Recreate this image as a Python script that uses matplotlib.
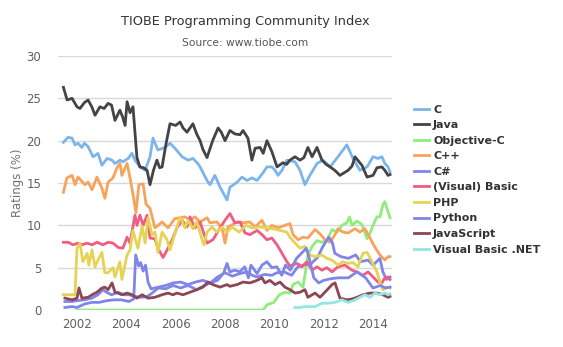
import matplotlib.pyplot as plt

# ratings (%), year as decimal
c_years = [2001.45, 2001.64, 2001.80, 2001.92, 2002.04, 2002.20, 2002.30, 2002.45, 2002.65, 2002.85,
           2003.01, 2003.22, 2003.42, 2003.54, 2003.74, 2003.86, 2004.07, 2004.23, 2004.35, 2004.55,
           2004.76, 2004.96, 2005.08, 2005.28, 2005.57, 2005.77, 2005.97, 2006.26, 2006.50, 2006.70,
           2006.90, 2006.99, 2007.27, 2007.39, 2007.59, 2007.80, 2008.08, 2008.20, 2008.49, 2008.69,
           2008.89, 2009.09, 2009.30, 2009.54, 2009.70, 2009.90, 2010.03, 2010.15, 2010.31, 2010.51,
           2010.84, 2011.04, 2011.24, 2011.44, 2011.73, 2011.97, 2012.26, 2012.58, 2012.94, 2013.19,
           2013.47, 2013.76, 2014.00, 2014.20, 2014.36, 2014.48, 2014.61, 2014.69]
c_vals = [19.8, 20.4, 20.3, 19.5, 19.7, 19.2, 19.7, 19.3, 18.1, 18.5,
          17.1, 17.9, 17.7, 17.3, 17.7, 17.5, 17.9, 18.5, 17.7, 16.9,
          16.5, 18.1, 20.3, 18.9, 19.2, 19.7, 19.1, 18.1, 17.7, 17.9,
          17.3, 16.9, 15.3, 14.8, 15.9, 14.5, 13.0, 14.5, 15.1, 15.7,
          15.3, 15.6, 15.3, 16.2, 16.9, 16.9, 16.5, 15.9, 16.5, 17.7,
          17.5, 16.5, 14.8, 15.9, 17.3, 17.7, 16.9, 18.1, 19.5, 17.9,
          16.5, 16.9, 18.1, 17.9, 18.1, 17.3, 16.9, 16.3]

java_years = [2001.45, 2001.60, 2001.80, 2002.00, 2002.12, 2002.30, 2002.45, 2002.60, 2002.73, 2002.93,
              2003.10, 2003.26, 2003.40, 2003.54, 2003.74, 2003.85, 2003.95, 2004.03, 2004.15, 2004.27,
              2004.35, 2004.43, 2004.55, 2004.70, 2004.84, 2004.96, 2005.10, 2005.24, 2005.35, 2005.45,
              2005.60, 2005.77, 2006.00, 2006.18, 2006.30, 2006.46, 2006.70, 2006.85, 2006.99, 2007.10,
              2007.27, 2007.50, 2007.72, 2007.85, 2008.00, 2008.20, 2008.40, 2008.61, 2008.73, 2008.93,
              2009.09, 2009.22, 2009.42, 2009.55, 2009.70, 2009.90, 2010.11, 2010.35, 2010.50, 2010.63,
              2010.84, 2011.04, 2011.20, 2011.36, 2011.53, 2011.73, 2011.93, 2012.10, 2012.26, 2012.45,
              2012.66, 2012.99, 2013.15, 2013.27, 2013.55, 2013.76, 2014.00, 2014.16, 2014.36, 2014.48,
              2014.61, 2014.69]
java_vals = [26.3, 24.8, 25.0, 24.0, 23.8, 24.5, 24.8, 24.0, 23.0, 24.0,
             23.8, 24.4, 24.2, 22.4, 23.6, 22.8, 21.8, 24.6, 23.3, 24.0,
             21.0, 18.0, 16.9, 16.8, 16.5, 14.8, 16.5, 17.7, 16.8, 16.9,
             19.5, 22.0, 21.8, 22.2, 21.5, 21.0, 22.0, 20.8, 20.0, 19.0,
             18.0, 20.0, 21.5, 21.0, 20.0, 21.2, 20.8, 20.7, 21.2, 20.3,
             17.7, 19.1, 19.2, 18.5, 20.0, 18.7, 16.9, 17.4, 17.2, 17.7,
             18.1, 17.7, 18.0, 19.2, 18.1, 19.2, 17.7, 17.2, 16.9, 16.5,
             15.9, 16.5, 17.0, 18.1, 17.1, 15.7, 15.9, 16.8, 16.9, 16.5,
             15.9, 16.0]

objc_years = [2002.00, 2009.50, 2009.60, 2009.70, 2009.98, 2010.20, 2010.43, 2010.63, 2010.76, 2010.96,
              2011.16, 2011.24, 2011.36, 2011.53, 2011.73, 2011.93, 2012.13, 2012.34, 2012.54, 2012.74,
              2012.94, 2013.05, 2013.15, 2013.35, 2013.55, 2013.76, 2013.88, 2014.00, 2014.16, 2014.28,
              2014.40, 2014.48, 2014.61, 2014.69]
objc_vals = [0.0, 0.0, 0.2, 0.6, 0.9, 1.8, 2.1, 2.0, 3.0, 3.3,
             2.7, 4.1, 6.5, 7.5, 8.2, 8.0, 8.2, 9.5, 9.2, 10.0,
             10.3, 11.0, 10.0, 10.5, 10.1, 8.4, 9.1, 10.0, 11.0, 11.0,
             12.4, 12.8, 11.6, 10.9]

cpp_years = [2001.45, 2001.59, 2001.80, 2001.92, 2002.04, 2002.32, 2002.45, 2002.61, 2002.81, 2003.01,
             2003.13, 2003.26, 2003.46, 2003.62, 2003.74, 2003.82, 2004.03, 2004.15, 2004.31, 2004.39,
             2004.51, 2004.68, 2004.80, 2004.96, 2005.16, 2005.45, 2005.69, 2005.97, 2006.18, 2006.38,
             2006.58, 2006.78, 2006.99, 2007.27, 2007.39, 2007.67, 2007.88, 2008.00, 2008.12, 2008.49,
             2008.73, 2009.01, 2009.22, 2009.50, 2009.70, 2009.90, 2010.15, 2010.43, 2010.63, 2010.76,
             2010.96, 2011.16, 2011.36, 2011.65, 2011.85, 2012.05, 2012.26, 2012.46, 2012.58, 2012.78,
             2012.99, 2013.27, 2013.47, 2013.67, 2013.88, 2014.08, 2014.28, 2014.48, 2014.61, 2014.69]
cpp_vals = [13.9, 15.6, 15.9, 14.8, 15.7, 14.8, 15.1, 14.2, 15.7, 14.4,
            13.2, 15.1, 15.6, 16.8, 17.3, 15.9, 17.3, 15.6, 13.0, 11.5,
            14.8, 14.9, 12.5, 12.0, 9.7, 10.4, 9.7, 10.8, 10.9, 11.0,
            10.6, 11.0, 10.4, 10.9, 10.3, 10.4, 9.7, 7.9, 9.8, 10.4,
            10.3, 10.4, 9.8, 10.6, 9.4, 10.0, 9.7, 10.0, 10.2, 8.9,
            8.3, 8.6, 8.5, 9.5, 9.0, 8.3, 8.0, 8.9, 9.6, 9.2,
            9.1, 9.6, 9.2, 9.6, 8.5, 7.4, 6.5, 5.9, 6.3, 6.3]

cs_years = [2001.51, 2001.80, 2002.00, 2002.30, 2002.60, 2002.90, 2003.20, 2003.50, 2003.80, 2004.10,
            2004.30, 2004.38, 2004.50, 2004.58, 2004.68, 2004.78, 2004.88, 2005.00, 2005.30, 2005.60,
            2005.90, 2006.20, 2006.50, 2006.80, 2007.10, 2007.40, 2007.70, 2008.00, 2008.30, 2008.60,
            2008.90, 2009.10, 2009.30, 2009.60, 2009.90, 2010.10, 2010.40, 2010.70, 2010.95, 2011.20,
            2011.50, 2011.75, 2011.95, 2012.20, 2012.35, 2012.45, 2012.70, 2013.00, 2013.30, 2013.50,
            2013.80, 2014.00, 2014.28, 2014.40, 2014.55, 2014.69]
cs_vals = [0.3, 0.4, 0.3, 0.7, 0.9, 0.9, 1.1, 1.2, 1.2, 1.0,
           1.3, 6.5, 5.2, 5.6, 4.6, 5.3, 3.3, 2.5, 2.7, 2.9,
           3.2, 3.3, 3.0, 3.3, 3.5, 3.2, 3.9, 4.4, 4.0, 4.3,
           4.5, 4.1, 3.9, 4.2, 4.1, 4.4, 4.5, 4.1, 5.1, 5.3,
           5.5, 6.2, 7.4, 8.6, 8.0, 6.7, 6.3, 6.1, 6.5, 5.7,
           5.9, 5.3, 6.1, 4.5, 3.6, 3.9]

vb_years = [2001.45, 2001.64, 2001.84, 2002.04, 2002.20, 2002.41, 2002.61, 2002.81, 2003.05, 2003.26,
            2003.46, 2003.66, 2003.86, 2004.03, 2004.15, 2004.35, 2004.43, 2004.55, 2004.68, 2004.84,
            2004.96, 2005.16, 2005.28, 2005.49, 2005.69, 2005.89, 2006.05, 2006.26, 2006.46, 2006.58,
            2006.78, 2006.99, 2007.27, 2007.51, 2007.80, 2008.00, 2008.20, 2008.40, 2008.61, 2008.81,
            2009.01, 2009.30, 2009.50, 2009.70, 2009.90, 2010.11, 2010.31, 2010.51, 2010.63, 2010.92,
            2011.12, 2011.32, 2011.53, 2011.73, 2011.93, 2012.13, 2012.34, 2012.58, 2012.86, 2013.15,
            2013.35, 2013.59, 2013.80, 2014.00, 2014.20, 2014.36, 2014.48, 2014.61, 2014.69]
vb_vals = [8.0, 8.0, 7.7, 7.9, 7.7, 7.9, 7.7, 8.0, 7.7, 8.0,
           7.9, 7.4, 7.3, 8.6, 7.9, 11.2, 10.0, 11.2, 10.0, 11.2,
           8.5, 8.4, 7.3, 6.2, 7.3, 8.5, 9.7, 10.6, 9.8, 11.0,
           9.7, 10.4, 7.9, 8.3, 9.7, 10.6, 11.4, 10.3, 10.4, 9.1,
           8.9, 9.4, 8.9, 8.3, 8.5, 7.7, 6.7, 5.7, 5.2, 5.5,
           5.1, 5.7, 4.7, 5.1, 4.7, 5.0, 4.5, 5.1, 5.3, 4.7,
           4.5, 4.1, 4.5, 3.9, 3.3, 3.2, 3.8, 3.9, 3.6]

php_years = [2001.45, 2001.64, 2001.92, 2002.00, 2002.12, 2002.24, 2002.41, 2002.48, 2002.61, 2002.73,
             2002.85, 2003.01, 2003.13, 2003.26, 2003.46, 2003.54, 2003.74, 2003.82, 2004.03, 2004.15,
             2004.27, 2004.35, 2004.47, 2004.64, 2004.76, 2004.88, 2005.04, 2005.16, 2005.28, 2005.45,
             2005.65, 2005.77, 2005.97, 2006.18, 2006.38, 2006.50, 2006.70, 2006.86, 2007.05, 2007.15,
             2007.27, 2007.47, 2007.67, 2007.88, 2008.08, 2008.28, 2008.57, 2008.85, 2009.09, 2009.38,
             2009.70, 2009.94, 2010.23, 2010.51, 2010.63, 2010.84, 2011.04, 2011.24, 2011.44, 2011.65,
             2011.93, 2012.13, 2012.34, 2012.58, 2012.78, 2012.99, 2013.19, 2013.39, 2013.59, 2013.76,
             2013.96, 2014.16, 2014.28, 2014.40, 2014.57, 2014.69]
php_vals = [1.8, 1.8, 1.8, 7.3, 7.9, 5.7, 6.7, 5.3, 7.1, 5.1,
            5.9, 6.8, 4.4, 4.4, 5.0, 3.9, 5.7, 3.6, 6.5, 7.1,
            9.4, 8.5, 7.3, 9.9, 7.9, 10.9, 8.9, 9.2, 6.8, 9.2,
            8.3, 7.1, 9.0, 11.0, 9.7, 10.6, 9.6, 10.4, 8.5, 7.7,
            9.2, 9.8, 9.2, 9.8, 9.2, 9.8, 9.2, 10.0, 9.7, 9.8,
            9.7, 9.6, 9.4, 9.2, 8.6, 7.9, 7.3, 7.5, 6.5, 6.3,
            6.5, 6.1, 5.9, 5.3, 5.7, 5.5, 5.6, 5.1, 6.7, 6.8,
            5.7, 4.5, 3.3, 2.4, 2.7, 2.6]

py_years = [2001.51, 2001.80, 2002.00, 2002.30, 2002.60, 2002.85, 2003.05, 2003.20, 2003.40, 2003.66,
            2003.90, 2004.10, 2004.35, 2004.60, 2004.85, 2005.00, 2005.30, 2005.60, 2005.90, 2006.20,
            2006.50, 2006.85, 2007.10, 2007.40, 2007.70, 2007.95, 2008.08, 2008.20, 2008.40, 2008.60,
            2008.80, 2008.95, 2009.05, 2009.30, 2009.50, 2009.70, 2009.90, 2010.10, 2010.30, 2010.45,
            2010.65, 2010.90, 2011.10, 2011.30, 2011.45, 2011.60, 2011.80, 2012.00, 2012.30, 2012.60,
            2013.00, 2013.35, 2013.70, 2014.00, 2014.30, 2014.50, 2014.69]
py_vals = [1.0, 1.0, 1.1, 1.2, 1.4, 1.8, 2.4, 2.1, 1.8, 2.1,
           1.8, 1.8, 1.6, 1.5, 1.6, 1.9, 2.6, 2.5, 2.9, 2.6,
           2.9, 2.4, 2.8, 3.2, 3.5, 4.4, 5.5, 4.5, 4.7, 4.5,
           5.1, 3.8, 5.3, 4.3, 5.3, 5.7, 5.0, 5.1, 4.1, 5.3,
           4.7, 6.1, 6.7, 7.3, 5.7, 3.8, 3.2, 3.5, 3.7, 3.8,
           3.8, 4.5, 3.8, 2.6, 2.9, 2.6, 2.7]

js_years = [2001.51, 2001.80, 2002.00, 2002.08, 2002.20, 2002.45, 2002.61, 2002.81, 2003.01, 2003.13,
            2003.26, 2003.42, 2003.54, 2003.66, 2003.82, 2004.03, 2004.23, 2004.43, 2004.64, 2004.88,
            2005.16, 2005.45, 2005.69, 2005.89, 2006.05, 2006.30, 2006.58, 2006.86, 2007.11, 2007.31,
            2007.51, 2007.80, 2008.08, 2008.20, 2008.49, 2008.73, 2009.01, 2009.30, 2009.50, 2009.62,
            2009.82, 2010.03, 2010.23, 2010.43, 2010.63, 2010.84, 2011.04, 2011.24, 2011.36, 2011.65,
            2011.85, 2012.05, 2012.34, 2012.46, 2012.66, 2012.94, 2013.15, 2013.35, 2013.59, 2013.88,
            2014.16, 2014.40, 2014.61, 2014.69]
js_vals = [1.4, 1.2, 1.4, 2.6, 1.4, 1.5, 1.8, 2.1, 2.6, 2.7,
           2.4, 3.2, 2.1, 2.0, 1.8, 2.0, 1.8, 1.4, 1.8, 1.4,
           1.5, 1.8, 2.0, 1.8, 2.0, 1.8, 2.1, 2.4, 2.7, 3.3,
           3.0, 2.7, 3.0, 2.8, 3.0, 3.3, 3.2, 3.5, 3.8, 3.2,
           3.5, 3.0, 3.3, 2.7, 2.4, 2.0, 2.1, 2.4, 1.5, 2.0,
           1.5, 2.1, 3.0, 3.2, 1.4, 1.2, 1.3, 1.5, 1.8, 2.0,
           2.0, 1.8, 1.5, 1.6]

vbnet_years = [2010.84, 2011.04, 2011.24, 2011.65, 2011.93, 2012.17, 2012.46, 2012.74, 2012.99, 2013.20,
               2013.47, 2013.67, 2013.88, 2014.08, 2014.28, 2014.48, 2014.61, 2014.69]
vbnet_vals = [0.3, 0.3, 0.4, 0.4, 0.8, 0.8, 0.9, 1.2, 0.9, 1.1,
              1.5, 1.8, 1.5, 2.0, 1.8, 2.0, 1.8, 1.9]

series = [
    ("C", c_years, c_vals, "#7cb5ec"),
    ("Java", java_years, java_vals, "#434348"),
    ("Objective-C", objc_years, objc_vals, "#90ed7d"),
    ("C++", cpp_years, cpp_vals, "#f7a35c"),
    ("C#", cs_years, cs_vals, "#8085e9"),
    ("(Visual) Basic", vb_years, vb_vals, "#f15c80"),
    ("PHP", php_years, php_vals, "#e4d354"),
    ("Python", py_years, py_vals, "#8085e8"),
    ("JavaScript", js_years, js_vals, "#8d4653"),
    ("Visual Basic .NET", vbnet_years, vbnet_vals, "#91e8e1"),
]

fig = plt.figure(figsize=(5.63, 3.47), dpi=100)
ax = fig.add_axes([58 / 563, 1 - 310 / 347, 334 / 563, 254 / 347])

for name, yrs, vals, color in series:
    ax.plot(yrs, vals, color=color, lw=2.0, label=name, solid_joinstyle="round")

ax.set_xlim(2001.23, 2014.77)
ax.set_ylim(0, 30)
ax.set_yticks(range(0, 31, 5))
ax.set_xticks(range(2002, 2015, 2))
ax.grid(axis="y", color="#d8d8d8", lw=1)
ax.set_axisbelow(True)
for s in ax.spines.values():
    s.set_visible(False)
ax.tick_params(axis="both", length=0, labelsize=8.5, colors="#606060")
ax.tick_params(axis="y", pad=12)
ax.tick_params(axis="x", pad=6)
ax.set_ylabel("Ratings (%)", color="#707070", fontsize=8.5, labelpad=2)

fig.text(245 / 563, 1 - 21 / 347, "TIOBE Programming Community Index",
         ha="center", va="center", fontsize=9.3, color="#333333")
fig.text(245 / 563, 1 - 43 / 347, "Source: www.tiobe.com",
         ha="center", va="center", fontsize=7.7, color="#555555")

leg = ax.legend(loc="upper left", bbox_to_anchor=(408 / 563, 1 - 99 / 347),
                bbox_transform=fig.transFigure, frameon=False,
                prop={"weight": "bold", "size": 8}, handlelength=1.4,
                handletextpad=0.35, labelspacing=0.5, borderpad=0)
for t in leg.get_texts():
    t.set_color("#333333")

fig.savefig("out.png", dpi=100)
